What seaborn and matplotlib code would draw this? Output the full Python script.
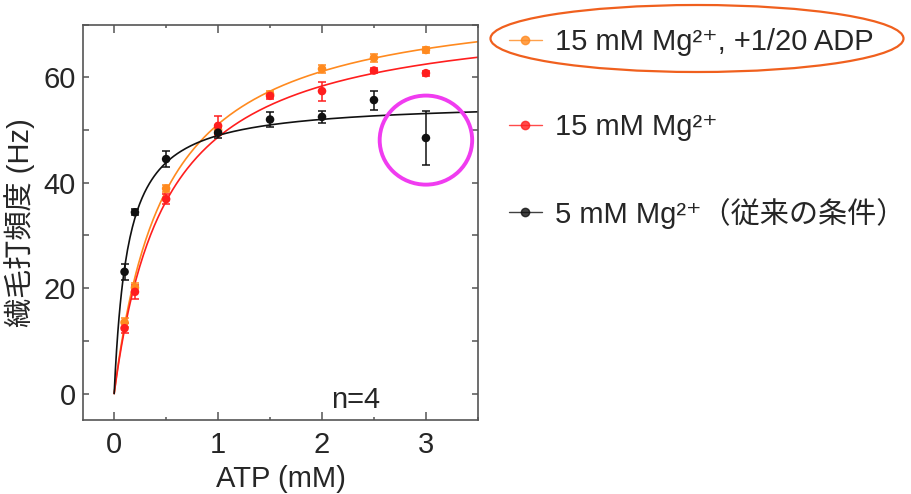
# IMPORT LIBRARIES
import numpy as np
import pandas as pd
import matplotlib
matplotlib.use("Agg")
import matplotlib.pyplot as plt
from matplotlib.lines import Line2D
from matplotlib.patches import Ellipse
from matplotlib.ticker import MultipleLocator
import seaborn as sns

# =====================================================
# DATA
# =====================================================

atp_mM = [0.1, 0.2, 0.5, 1.0, 1.5, 2.0, 2.5, 3.0]

freq_adp = [13.5, 20.1, 38.9, 50.0, 56.8, 61.6, 63.7, 65.2]
err_adp = [0.8, 0.8, 0.6, 1.0, 0.6, 0.8, 0.7, 0.5]

freq_mg15 = [12.4, 19.3, 36.9, 50.8, 56.5, 57.4, 61.3, 60.8]
err_mg15 = [1.0, 1.3, 1.0, 1.8, 0.6, 1.8, 0.5, 0.5]

freq_mg5 = [23.1, 34.4, 44.5, 49.5, 52.0, 52.5, 55.7, 48.5]
err_mg5 = [1.5, 0.6, 1.6, 1.0, 1.4, 1.2, 1.8, 5.1]

# Michaelis-Menten fit parameters
vmax_fit = [76.1, 72.9, 55.5]
km_fit = [0.489, 0.498, 0.133]

labels = [
    "15 mM Mg²⁺, +1/20 ADP",
    "15 mM Mg²⁺",
    "5 mM Mg²⁺（従来の条件）",
]
colors = ["#FF8A1F", "#FF1E1E", "#111111"]

# =====================================================
# STYLE
# =====================================================

sns.set_theme(style="ticks")
plt.rcParams["font.family"] = ["Liberation Sans", "Noto Sans CJK JP", "DejaVu Sans"]
FS = 21

fig = plt.figure(figsize=(9.12, 4.94), dpi=100)
ax = fig.add_axes([0.091, 0.150, 0.433, 0.800])

# =====================================================
# FIT CURVES
# =====================================================

x_fit = np.linspace(0, 3.5, 300)
for vmax, km, c in zip(vmax_fit, km_fit, colors):
    fit_df = pd.DataFrame({"atp": x_fit, "freq": vmax * x_fit / (km + x_fit)})
    sns.lineplot(data=fit_df, x="atp", y="freq", color=c, lw=1.2, ax=ax,
                 legend=False, zorder=2)

# =====================================================
# DATA POINTS WITH ERROR BARS
# =====================================================

for freq, err, c in zip([freq_adp, freq_mg15, freq_mg5],
                        [err_adp, err_mg15, err_mg5], colors):
    ax.errorbar(atp_mM, freq, yerr=err, fmt="none", ecolor=c,
                elinewidth=1.1, capsize=3, capthick=1.1, zorder=3)
    sns.scatterplot(x=atp_mM, y=freq, color=c, s=38, marker="o",
                    edgecolor="none", ax=ax, zorder=4)

# =====================================================
# AXES
# =====================================================

ax.set_xlim(-0.3, 3.5)
ax.set_ylim(-5, 70)
ax.set_xticks([0, 1, 2, 3])
ax.xaxis.set_minor_locator(MultipleLocator(0.5))
ax.set_yticks([0, 20, 40, 60])
ax.yaxis.set_minor_locator(MultipleLocator(10))
ax.tick_params(axis="x", which="major", direction="in", length=6, width=1.1,
               top=True, bottom=True, labelsize=FS, pad=8, color="#555555")
ax.tick_params(axis="x", which="minor", direction="in", length=2.5, width=1.1,
               top=True, bottom=True, color="#555555")
ax.tick_params(axis="y", which="both", direction="in", length=4, width=1.1,
               left=True, right=True, labelsize=FS, pad=5, color="#555555")
for sp in ax.spines.values():
    sp.set_visible(True)
    sp.set_color("#555555")
    sp.set_linewidth(1.2)

ax.set_xlabel("ATP (mM)", fontsize=FS, labelpad=4)
ax.set_ylabel("繊毛打頻度 (Hz)", fontsize=FS, labelpad=6)

ax.text(2.32, -1.2, "n=4", fontsize=FS, ha="center", va="center")

# highlight circle
ax.add_patch(Ellipse((3.0, 48.1), 0.89, 16.9, fill=False, ec="#F03CF0",
                     lw=2.8, zorder=5))

# =====================================================
# LEGEND
# =====================================================

handles = [
    Line2D([], [], color=c, lw=1.0, alpha=0.8, marker="o", markersize=6,
           markerfacecolor=c, markeredgecolor=c)
    for c in colors
]
fig.legend(handles, labels, loc="upper left", bbox_to_anchor=(0.545, 0.967),
           frameon=False, fontsize=FS, handlelength=1.15, handletextpad=0.45,
           labelspacing=1.95, borderaxespad=0)

fig.add_artist(Ellipse((697 / 912, 1 - 38.5 / 494), 413 / 912, 67 / 494,
                       transform=fig.transFigure, fill=False, ec="#F0601E",
                       lw=1.6))

plt.savefig("out.png", dpi=100)
plt.close()
